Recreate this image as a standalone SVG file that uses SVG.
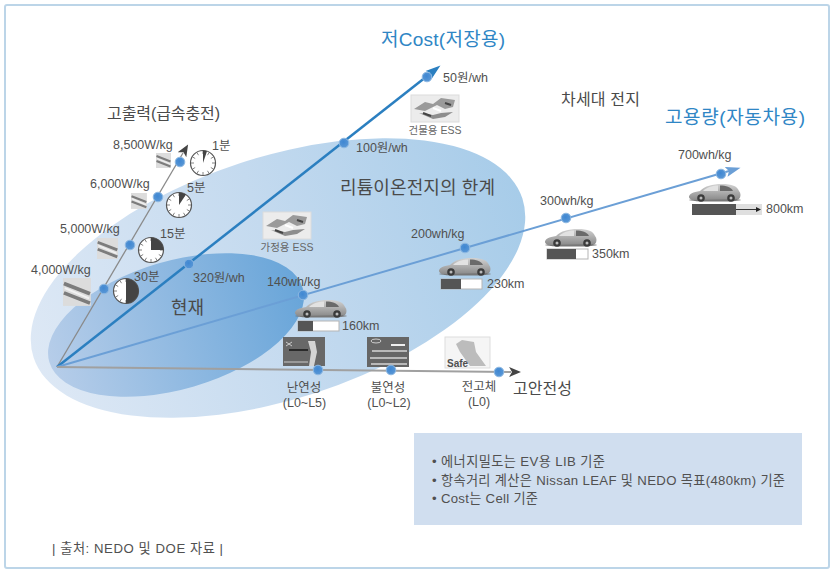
<svg xmlns="http://www.w3.org/2000/svg" width="834" height="575" viewBox="0 0 834 575">
<style>
text{font-family:"Liberation Sans","Noto Sans CJK KR",sans-serif;fill:#505050;font-size:12.5px}
.big{font-size:16px;fill:#4a4a4a}
.huge{font-size:18px;fill:#4a4a4a}
.blue{font-size:19px;fill:#2f86c5}
.sm{font-size:10.5px;fill:#666}
.note{font-size:13.2px}
.mid{text-anchor:middle}
.dot{fill:url(#dg);stroke:#8db8e2;stroke-width:1}
.img{filter:url(#soft)}
.bar{fill:#555}
.barbg{fill:#fff;stroke:#b5b5b5;stroke-width:1}
</style>
<defs>
<linearGradient id="g1"><stop offset="0" stop-color="#dde8f5"/><stop offset="0.5" stop-color="#c4daef"/><stop offset="1" stop-color="#a7cce9"/></linearGradient>
<linearGradient id="g2"><stop offset="0" stop-color="#b6cde9"/><stop offset="1" stop-color="#68a5d9"/></linearGradient>
<linearGradient id="cb" x1="0" x2="0" y1="0" y2="1"><stop offset="0" stop-color="#d2d2d2"/><stop offset="1" stop-color="#8a8a8a"/></linearGradient>
<radialGradient id="dg" cx=".45" cy=".4" r=".6"><stop offset="0" stop-color="#3f87d2"/><stop offset="1" stop-color="#5b98d6"/></radialGradient>
<filter id="soft" x="-10%" y="-10%" width="120%" height="120%"><feGaussianBlur stdDeviation="0.5"/></filter>
<marker id="ag" markerUnits="userSpaceOnUse" markerWidth="14" markerHeight="12" refX="2" refY="6" orient="auto"><path d="M0 1L12 6L0 11L3 6Z" fill="#444"/></marker>
<marker id="ab" markerUnits="userSpaceOnUse" markerWidth="16" markerHeight="12" refX="3" refY="6" orient="auto"><path d="M0 1L15 6L0 11L3 6Z" fill="#2b7fc0"/></marker>
<marker id="al" markerUnits="userSpaceOnUse" markerWidth="16" markerHeight="12" refX="3" refY="6" orient="auto"><path d="M0 1L15 6L0 11L3 6Z" fill="#6b9fd6"/></marker>
<g id="carShape" class="img"><ellipse cx="26" cy="17" rx="26" ry="1.6" fill="#777"/><path d="M0 14C0 11 4 9 11 8C16 3 23 1 33 1C43 1 48 3 50 8C52 10 52 14 50 16L3 17C1 16 0 15 0 14Z" fill="url(#cb)"/><path d="M14 8C18 4 24 2.500 29 2.500L29 8Z" fill="#e2e2e2"/><path d="M31 2.500C37 2.500 42 4 44 8L31 8Z" fill="#6a6a6a"/><circle cx="12" cy="15" r="3.800" fill="#3a3a3a"/><circle cx="12" cy="15" r="1.500" fill="#bbb"/><circle cx="42" cy="15" r="3.800" fill="#3a3a3a"/><circle cx="42" cy="15" r="1.500" fill="#bbb"/></g>
<g id="panel" class="img"><rect width="48" height="27" fill="#ececec" stroke="#dcdcdc"/><path d="M3 14L14 7L22 9L30 3L44 5L42 12L34 14L26 10L14 16Z" fill="#9a9a9a"/><path d="M8 18L22 24L34 22L42 17L30 18L22 20Z" fill="#8d8d8d"/><path d="M12 18L20 21M34 8L40 10" stroke="#444" stroke-width="2"/><path d="M22 13L30 16" stroke="#fff" stroke-width="2"/></g>
<g id="strip" class="img"><rect width="30" height="30" fill="#dcdcdc"/><path d="M1 6L29 17M1 16L29 27" stroke="#7b7b7b" stroke-width="4"/><path d="M2 11L28 22" stroke="#f2f2f2" stroke-width="2"/></g>
<g id="clock"><circle r="12.500" fill="#fff" stroke="#555" stroke-width="1.200"/><path d="M0 -12V-9M0 12V9M-12 0H-9M12 0H9M6 -10.400L4.500 -7.800M-6 -10.400L-4.500 -7.800M6 10.400L4.500 7.800M-6 10.400L-4.500 7.800M10.400 -6L7.800 -4.500M-10.400 -6L-7.800 -4.500M10.400 6L7.800 4.500M-10.400 6L-7.800 4.500" stroke="#666" stroke-width=".8"/></g>
</defs>
<rect x="5" y="5" width="824" height="563" rx="2" fill="#fff" stroke="#bcd5e8" stroke-width="2"/>
<g id="ellipses">
<ellipse cx="278" cy="278" rx="257" ry="121" transform="rotate(-18 278 278)" fill="url(#g1)"/>
<ellipse cx="176" cy="325" rx="132" ry="64" transform="rotate(-16.300 176 325)" fill="url(#g2)"/>
</g>
<g id="connectors" fill="none">
<path d="M57 367L183 153" stroke="#8a8a8a" stroke-width="1.300" marker-end="url(#ag)"/>
<path d="M57 367L431 73" stroke="#2b7fc0" stroke-width="2.500" marker-end="url(#ab)"/>
<path d="M57 367L729 171" stroke="#6b9fd6" stroke-width="2" marker-end="url(#al)"/>
<path d="M57 367L511 372" stroke="#a0a0a0" stroke-width="2" marker-end="url(#ag)"/>
</g>
<g id="axis-power">
<text class="big" x="107" y="119" textLength="113">고출력(급속충전)</text>
<text x="113" y="149">8,500W/kg</text><use href="#strip" transform="translate(156 153) scale(.5)"/><circle class="dot" cx="180" cy="162" r="4.800"/>
<use href="#clock" x="203" y="163"/><path fill="#444" d="M203 163L203 150.500A12.500 12.500 0 0 1 207 151.200Z"/><text x="212" y="150">1분</text>
<text x="90" y="188">6,000W/kg</text><use href="#strip" transform="translate(131 193) scale(.53)"/><circle class="dot" cx="158" cy="197" r="4.800"/>
<use href="#clock" x="179" y="205"/><path fill="#444" d="M179 205L179 192.500A12.500 12.500 0 0 1 186 194.600Z"/><text x="187" y="192">5분</text>
<text x="60" y="233">5,000W/kg</text><use href="#strip" transform="translate(97 238) scale(.7)"/><circle class="dot" cx="130" cy="245" r="4.800"/>
<use href="#clock" x="151" y="250"/><path fill="#444" d="M151 250L151 237.500A12.500 12.500 0 0 1 163.500 250Z"/><text x="160" y="238">15분</text>
<text x="31" y="274">4,000W/kg</text><use href="#strip" transform="translate(63 278) scale(.93)"/><circle class="dot" cx="104" cy="289" r="4.800"/>
<use href="#clock" x="126" y="291"/><path fill="#444" d="M126 291L126 278.500A12.500 12.500 0 0 1 126 303.500Z"/><text x="134" y="281">30분</text>
</g>
<g id="axis-cost">
<text class="blue" x="381" y="46" textLength="124">저Cost(저장용)</text>
<circle class="dot" cx="427" cy="77" r="4.800"/><text x="443" y="82">50원/wh</text>
<use href="#panel" x="411" y="95"/><text class="sm mid" x="435" y="134">건물용 ESS</text>
<circle class="dot" cx="344" cy="143" r="4.800"/><text x="356" y="152">100원/wh</text>
<use href="#panel" x="263" y="212"/><text class="sm mid" x="287" y="251">가정용 ESS</text>
<circle class="dot" cx="189" cy="264" r="4.800"/><text x="193" y="282">320원/wh</text>
</g>
<g id="labels">
<text class="huge" x="340" y="194" textLength="155">리튬이온전지의 한계</text>
<text class="huge" x="171" y="314" textLength="33">현재</text>
<text class="big" x="561" y="105" textLength="79">차세대 전지</text>
</g>
<g id="axis-energy">
<text class="blue" x="665" y="124" textLength="140">고용량(자동차용)</text>
<text x="267" y="286">140wh/kg</text><circle class="dot" cx="303" cy="295" r="4.800"/>
<use href="#carShape" x="295" y="299"/><rect class="barbg" x="298" y="321" width="41" height="10"/><rect class="bar" x="298" y="321" width="15" height="10"/><text x="342" y="330">160km</text>
<text x="411" y="238">200wh/kg</text><circle class="dot" cx="465" cy="248" r="4.800"/>
<use href="#carShape" x="439" y="257"/><rect class="barbg" x="441" y="279" width="41" height="10"/><rect class="bar" x="441" y="279" width="20" height="10"/><text x="487" y="288">230km</text>
<text x="540" y="205">300wh/kg</text><circle class="dot" cx="566" cy="218" r="4.800"/>
<use href="#carShape" x="545" y="228"/><rect class="barbg" x="547" y="249" width="41" height="10"/><rect class="bar" x="547" y="249" width="29" height="10"/><text x="592" y="258">350km</text>
<text x="678" y="159">700wh/kg</text><circle class="dot" cx="721" cy="174" r="4.800"/>
<use href="#carShape" x="689" y="183"/><rect x="692" y="204" width="70" height="11" fill="#dfdfdf"/><rect class="bar" x="692" y="204" width="44" height="11"/><path d="M736 209.500H757" stroke="#333"/><path d="M756 207L761 209.500L756 212Z" fill="#222"/><text x="766" y="213">800km</text>
</g>
<g id="axis-safety">
<g class="img"><rect x="283" y="337" width="42" height="29" fill="#676767"/><path d="M308 341L315 341L317 352L314 366L309 366L311 352Z" fill="#d4d4d4"/><path d="M289 350H308" stroke="#2c2c2c" stroke-width="2"/><path d="M286 342L292 346M292 342L286 346" stroke="#ccc"/><path d="M284 362H308" stroke="#999" stroke-width="2"/></g>
<g class="img"><rect x="367" y="337" width="42" height="30" fill="#666"/><path d="M372 351H407M370 358H407M371 364H407" stroke="#d5d5d5" stroke-width="1.500"/><path d="M391 345H405" stroke="#eee" stroke-width="2"/><ellipse cx="376" cy="341" rx="5" ry="2" fill="none" stroke="#ccc"/></g>
<g class="img"><rect x="445" y="337" width="45" height="31" fill="#f5f5f5" stroke="#ddd"/><path d="M456 344L462 340L474 342L476 352L486 366L470 366L460 352Z" fill="#bcbcbc"/></g>
<text x="447" y="367" style="font-size:10px" font-weight="bold">Safe</text>
<circle class="dot" cx="318" cy="370" r="4.800"/><circle class="dot" cx="391" cy="370" r="4.800"/><circle class="dot" cx="499" cy="372" r="4.800"/>
<text class="mid" x="304" y="392">난연성</text><text class="mid" x="304.500" y="407">(L0~L5)</text>
<text class="mid" x="388" y="392">불연성</text><text class="mid" x="389" y="407">(L0~L2)</text>
<text class="mid" x="479" y="391">전고체</text><text class="mid" x="479" y="406">(L0)</text>
<text class="big" x="513" y="394" textLength="59">고안전성</text>
</g>
<g id="notes">
<rect x="414" y="433" width="388" height="92" fill="#d0deef"/>
<text class="note" x="432" y="466" textLength="173">• 에너지밀도는 EV용 LIB 기준</text>
<text class="note" x="432" y="485" textLength="353">• 항속거리 계산은 Nissan LEAF 및 NEDO 목표(480km) 기준</text>
<text class="note" x="432" y="503" textLength="106">• Cost는 Cell 기준</text>
<text class="note" x="52" y="553" textLength="171">| 출처: NEDO 및 DOE 자료 |</text>
</g>
</svg>
